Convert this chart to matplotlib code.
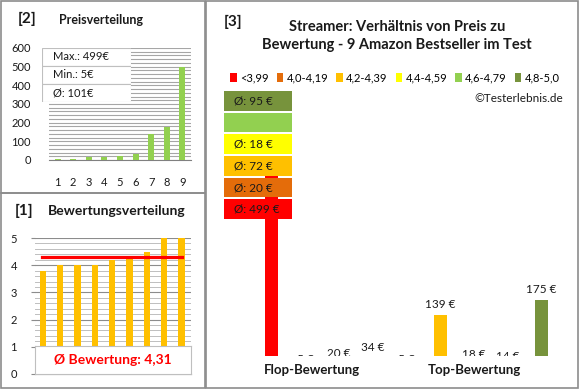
import matplotlib.pyplot as plt
import numpy as np
from matplotlib.patches import Rectangle, Patch

plt.rcParams['font.family'] = ['Lato', 'DejaVu Sans']

# products ordered from flop to top rating
ratings = [3.8, 4.0, 4.0, 4.0, 4.2, 4.3, 4.5, 5.0, 5.0]
prices = [499, 5, 20, 34, 5, 139, 18, 14, 175]

group_names = ['<3,99', '4,0-4,19', '4,2-4,39', '4,4-4,59', '4,6-4,79', '4,8-5,0']
group_lows = [0, 4.0, 4.2, 4.4, 4.6, 4.8]
group_colors = ['#FF0000', '#E46C0A', '#FFC000', '#FFFF00', '#92D050', '#77933C']

title3 = 'Streamer: Verhältnis von Preis zu\nBewertung - 9 Amazon Bestseller im Test'

W, H = 580, 390


def rect(l, t, r, b):
    # pixel box -> figure fraction [left, bottom, width, height]
    return [l / W, 1 - b / H, (r - l) / W, (b - t) / H]


def group_of(r):
    g = 0
    for i, lo in enumerate(group_lows):
        if r >= lo - 1e-9:
            g = i
    return g


fig = plt.figure(figsize=(5.8, 3.9), dpi=100)
fig.patch.set_facecolor('white')

# panel frames
for l, t, r, b in [(1, 1, 205, 193), (1, 193, 205, 388), (206, 1, 578, 388)]:
    fig.add_artist(Rectangle((l / W, 1 - b / H), (r - l) / W, (b - t) / H,
                             transform=fig.transFigure, fill=False,
                             edgecolor='#8c8c8c', lw=1.2))

txt = '#1a1a1a'

# ---- [2] Preisverteilung
sorted_prices = sorted(prices)
ax2 = fig.add_axes(rect(49, 48, 191, 160))
x = np.arange(1, len(sorted_prices) + 1)
ax2.bar(x, sorted_prices, width=0.38, color='#92D050', zorder=3)
ax2.set_ylim(0, 600)
ax2.set_xlim(0.45, 9.55)
ax2.set_yticks(range(0, 601, 100))
ax2.set_yticks(range(0, 601, 20), minor=True)
ax2.grid(axis='y', which='both', color='#a6a6a6', lw=0.8, zorder=0)
ax2.set_xticks(x)
ax2.tick_params(axis='both', which='both', length=0, labelsize=8, colors=txt)
ax2.tick_params(axis='x', pad=12)
ax2.tick_params(axis='y', pad=13)
for s in ['top', 'right', 'left']:
    ax2.spines[s].set_visible(False)
ax2.spines['bottom'].set_color('#808080')
fig.text(18 / W, 1 - 19 / H, '[2]', fontsize=11, fontweight='bold', va='center', color=txt)
fig.text(59 / W, 1 - 20 / H, 'Preisverteilung', fontsize=9, fontweight='bold', va='center', color=txt)

avg_price = sum(prices) / len(prices)
stats = ['Max.: %d€' % max(prices), 'Min.: %d€' % min(prices), 'Ø: %d€' % round(avg_price)]
axl = fig.add_axes(rect(42, 48, 131, 102))
axl.set_xlim(0, 1)
axl.set_ylim(0, 3)
axl.axis('off')
for i, s in enumerate(stats):
    yy = 2 - i
    axl.add_patch(Rectangle((0, yy), 1, 1, facecolor='white', edgecolor='#bfbfbf', lw=0.8))
    axl.text(0.12, yy + 0.5, s, fontsize=8, va='center', color=txt)

# ---- [1] Bewertungsverteilung
ax1 = fig.add_axes(rect(35, 238, 191, 374))
x1 = np.arange(1, len(ratings) + 1)
ax1.bar(x1, sorted(ratings), width=0.37, color='#FFC000', zorder=3)
avg_rating = sum(ratings) / len(ratings)
ax1.plot([0.95, 9.05], [avg_rating, avg_rating], color='#FF0000', lw=2.3, zorder=4)
ax1.set_ylim(-0.001, 5.001)
ax1.set_xlim(0.55, 9.55)
ax1.set_yticks(np.arange(0, 5.01, 0.2), minor=True)
ax1.set_yticks([0, 1, 2, 3, 4, 5])
ax1.grid(axis='y', which='minor', color='#bfbfbf', lw=0.7, zorder=0)
ax1.grid(axis='y', which='major', color='#8c8c8c', lw=0.8, zorder=0)
ax1.set_xticks([])
ax1.tick_params(axis='y', which='minor', length=0)
ax1.tick_params(axis='y', which='major', length=3, color='#8c8c8c', labelsize=8,
                labelcolor=txt, pad=10)
for s in ['top', 'right', 'left']:
    ax1.spines[s].set_visible(False)
ax1.spines['bottom'].set_color('#808080')
fig.text(15 / W, 1 - 211 / H, '[1]', fontsize=11, fontweight='bold', va='center', color=txt)
fig.text(48 / W, 1 - 211 / H, 'Bewertungsverteilung', fontsize=10, fontweight='bold', va='center', color=txt)

# average rating box over the lowest band
axr = fig.add_axes(rect(35, 346, 191, 374))
axr.set_xticks([])
axr.set_yticks([])
for s in axr.spines.values():
    s.set_color('#bfbfbf')
    s.set_linewidth(0.8)
axr.text(0.5, 0.5, 'Ø Bewertung: ' + ('%.2f' % avg_rating).replace('.', ','),
         transform=axr.transAxes, fontsize=10, fontweight='bold', color='#FF0000',
         ha='center', va='center')

# ---- [3] Preis zu Bewertung
fig.text(224 / W, 1 - 22 / H, '[3]', fontsize=11, fontweight='bold', va='center', color=txt)
fig.text(397 / W, 1 - 36 / H, title3, fontsize=10.5, fontweight='bold', ha='center',
         va='center', color=txt, linespacing=1.4)
handles = [Patch(facecolor=c, edgecolor='none') for c in group_colors]
fig.legend(handles, group_names, loc='center', bbox_to_anchor=(395 / W, 1 - 78 / H),
           ncol=6, frameon=False, fontsize=8, handlelength=0.6, handleheight=0.9,
           handletextpad=0.3, columnspacing=0.7, borderpad=0)
fig.text(563 / W, 1 - 98 / H, '©Testerlebnis.de', fontsize=8.5, ha='right', va='center', color=txt)

ax3 = fig.add_axes(rect(255, 160, 558, 356))
groups = [group_of(r) for r in ratings]
x3 = np.arange(len(prices))
ax3.bar(x3, prices, width=0.39, color=[group_colors[g] for g in groups])
ax3.set_ylim(41, 511)
ax3.set_xlim(-0.5, len(prices) - 0.5)
ax3.axis('off')
for xi, p in zip(x3, prices):
    if p > 400:
        continue  # label hidden behind the average boxes
    ax3.annotate('%d €' % p, (xi, p), xytext=(0, 8), textcoords='offset points',
                 ha='center', va='center', fontsize=8.5, color=txt,
                 annotation_clip=False, clip_on=True)
fig.text(312 / W, 1 - 370 / H, 'Flop-Bewertung', fontsize=9.5, fontweight='bold', ha='center', va='center', color=txt)
fig.text(474 / W, 1 - 370 / H, 'Top-Bewertung', fontsize=9.5, fontweight='bold', ha='center', va='center', color=txt)

# average price per rating group
axb = fig.add_axes(rect(224, 90, 292, 220))
axb.set_xlim(0, 1)
axb.set_ylim(-0.5, 5.5)
axb.axis('off')
for g, c in enumerate(group_colors):
    vals = [p for p, gg in zip(prices, groups) if gg == g]
    axb.barh(g, 1, height=0.9, color=c)
    if vals:
        axb.text(0.15, g, 'Ø: %d €' % int(np.mean(vals) + 0.5), fontsize=8.5,
                 va='center', color=txt)

fig.savefig('out.png', dpi=100)
